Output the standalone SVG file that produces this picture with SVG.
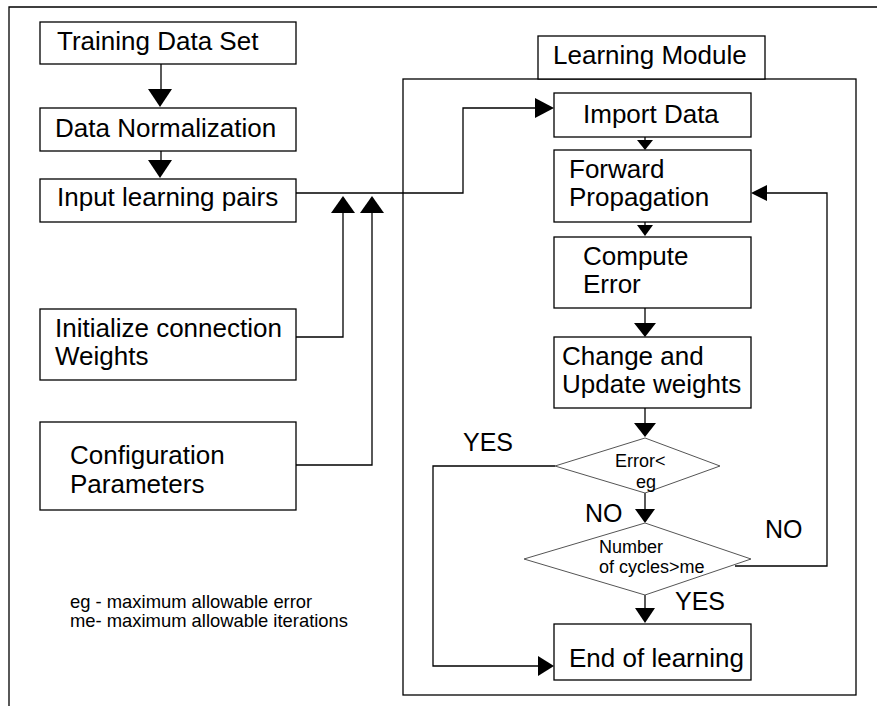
<svg xmlns="http://www.w3.org/2000/svg" width="877" height="706" viewBox="0 0 877 706">
<style>
.box{fill:#fff;stroke:#000;stroke-width:1.3}
.dia{fill:#fff;stroke:#555;stroke-width:1}
.ln{fill:none;stroke:#000;stroke-width:1.3}
.ah{fill:#000;stroke:none}
text{font-family:"Liberation Sans",Arial,sans-serif;fill:#000}
.t{font-size:26px}
.s{font-size:18px}
.g{font-size:18.4px}
.l{font-size:25px}
</style>
<rect width="877" height="706" fill="#fff"/>
<path class="ln" d="M9,706 V7 H877"/>

<g id="learning-module">
<rect class="box" x="403" y="79" width="453" height="616"/>
<rect class="box" x="538" y="36" width="227" height="43"/>
<text class="t" x="553" y="64">Learning Module</text>
</g>

<g id="connectors">
<line class="ln" x1="161" y1="64" x2="161" y2="90"/>
<polygon class="ah" points="148,89 172,89 160,107"/>
<line class="ln" x1="161" y1="151" x2="161" y2="161"/>
<polygon class="ah" points="148,160 172,160 160,178"/>
<polyline class="ln" points="296,193 463,193 463,108 537,108"/>
<polygon class="ah" points="535,98 554,108 535,118"/>
<polyline class="ln" points="296,337 343,337 343,212"/>
<polygon class="ah" points="331,213 355,213 343,196"/>
<polyline class="ln" points="296,465 372,465 372,212"/>
<polygon class="ah" points="360,213 384,213 372,196"/>
<line class="ln" x1="645" y1="137" x2="645" y2="141"/>
<polygon class="ah" points="637,140 653,140 645,150"/>
<line class="ln" x1="645" y1="222" x2="645" y2="226"/>
<polygon class="ah" points="637,225 653,225 645,236"/>
<line class="ln" x1="645" y1="308" x2="645" y2="324"/>
<polygon class="ah" points="634,323 656,323 645,337"/>
<line class="ln" x1="645" y1="408" x2="645" y2="424"/>
<polygon class="ah" points="634,423 656,423 645,437"/>
<line class="ln" x1="645" y1="493" x2="645" y2="510"/>
<polygon class="ah" points="635,509 655,509 645,523"/>
<line class="ln" x1="645" y1="595" x2="645" y2="609"/>
<polygon class="ah" points="635,608 655,608 645,623"/>
<polyline class="ln" points="555,466 433,466 433,666 540,666"/>
<polygon class="ah" points="538,656 554,666 538,676"/>
<polyline class="ln" points="735,566 827,566 827,193 765,193"/>
<polygon class="ah" points="767,185 751,193 767,201"/>
</g>

<g id="training-data-set">
<rect class="box" x="40" y="22" width="256" height="42"/>
<text class="t" x="57" y="50">Training Data Set</text>
</g>
<g id="data-normalization">
<rect class="box" x="40" y="108" width="256" height="43"/>
<text class="t" x="55" y="137">Data Normalization</text>
</g>
<g id="input-learning-pairs">
<rect class="box" x="40" y="179" width="256" height="43"/>
<text class="t" x="57" y="206">Input learning pairs</text>
</g>
<g id="initialize-weights">
<rect class="box" x="40" y="309" width="256" height="71"/>
<text class="t" x="55" y="337">Initialize connection</text>
<text class="t" x="55" y="365">Weights</text>
</g>
<g id="configuration-parameters">
<rect class="box" x="40" y="422" width="256" height="88"/>
<text class="t" x="70" y="464">Configuration</text>
<text class="t" x="70" y="493">Parameters</text>
</g>
<g id="legend">
<text class="g" x="70" y="608">eg - maximum allowable error</text>
<text class="g" x="70" y="627">me- maximum allowable iterations</text>
</g>

<g id="import-data">
<rect class="box" x="554" y="93" width="197" height="44"/>
<text class="t" x="583" y="123">Import Data</text>
</g>
<g id="forward-propagation">
<rect class="box" x="554" y="150" width="197" height="72"/>
<text class="t" x="569" y="178">Forward</text>
<text class="t" x="569" y="206">Propagation</text>
</g>
<g id="compute-error">
<rect class="box" x="554" y="237" width="197" height="71"/>
<text class="t" x="583" y="265">Compute</text>
<text class="t" x="583" y="293">Error</text>
</g>
<g id="change-update">
<rect class="box" x="554" y="337" width="197" height="71"/>
<text class="t" x="562" y="365">Change and</text>
<text class="t" x="562" y="393">Update weights</text>
</g>
<g id="error-check">
<polygon class="dia" points="645,438 720,466 645,493 555,466"/>
<text class="s" x="615" y="467">Error&lt;</text>
<text class="s" x="636" y="488">eg</text>
</g>
<g id="cycles-check">
<polygon class="dia" points="645,523 751,559 645,595 524,559"/>
<text class="s" x="599" y="553">Number</text>
<text class="s" x="599" y="573">of cycles&gt;me</text>
</g>
<g id="end-of-learning">
<rect class="box" x="554" y="624" width="197" height="56"/>
<text class="t" x="569" y="667">End of learning</text>
</g>
<g id="labels">
<text class="l" x="463" y="451">YES</text>
<text class="l" x="585" y="522">NO</text>
<text class="l" x="765" y="538">NO</text>
<text class="l" x="675" y="610">YES</text>
</g>
</svg>
